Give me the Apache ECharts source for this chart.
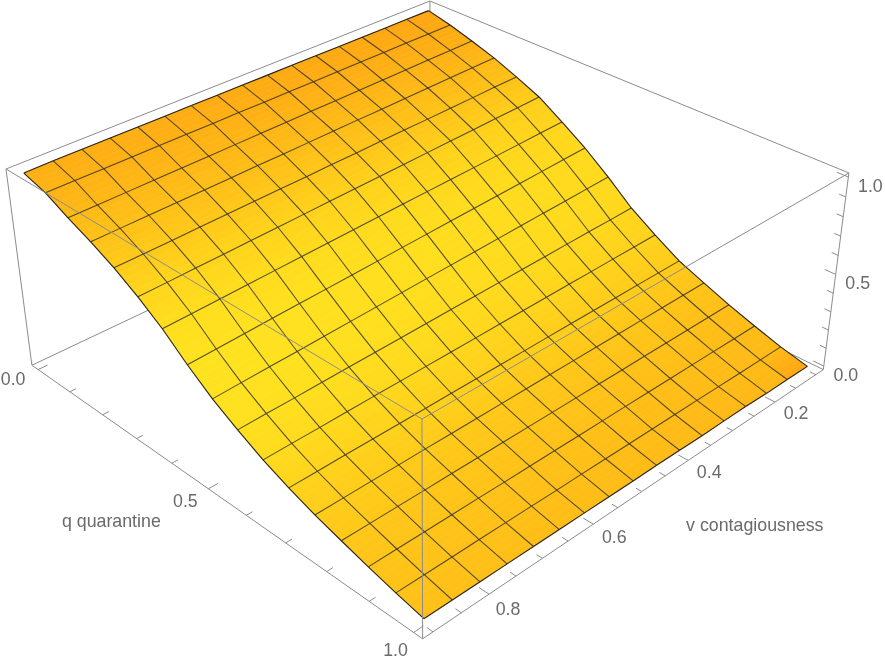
<!DOCTYPE html>
<html>
<head>
<meta charset="utf-8">
<style>
  html, body { margin: 0; padding: 0; background: #fff; }
  #chart { width: 885px; height: 663px; }
</style>
<script src="https://cdn.jsdelivr.net/npm/echarts@6/dist/echarts.min.js"></script>
</head>
<body>
<div id="chart"></div>
<script>
const qValues = [0, 0.0625, 0.125, 0.1875, 0.25, 0.3125, 0.375, 0.4375, 0.5, 0.5625, 0.625, 0.6875, 0.75, 0.8125, 0.875, 0.9375, 1];
const vValues = [0.1, 0.15, 0.2, 0.25, 0.3, 0.35, 0.4, 0.45, 0.5, 0.55, 0.6, 0.65, 0.7, 0.75, 0.8, 0.85, 0.9];

// one row per q, one column per v
const zValues = [
  [1.000, 1.000, 1.000, 1.000, 1.000, 1.000, 1.000, 1.000, 1.000, 1.000, 1.000, 1.000, 1.000, 1.000, 1.000, 1.000, 0.998],
  [0.970, 0.969, 0.969, 0.968, 0.968, 0.967, 0.966, 0.966, 0.965, 0.965, 0.964, 0.964, 0.963, 0.963, 0.962, 0.962, 0.961],
  [0.932, 0.930, 0.928, 0.926, 0.924, 0.922, 0.920, 0.918, 0.916, 0.914, 0.912, 0.910, 0.908, 0.906, 0.904, 0.902, 0.900],
  [0.890, 0.887, 0.885, 0.882, 0.879, 0.876, 0.874, 0.871, 0.868, 0.865, 0.863, 0.860, 0.857, 0.854, 0.852, 0.849, 0.846],
  [0.838, 0.835, 0.831, 0.828, 0.824, 0.821, 0.818, 0.814, 0.811, 0.807, 0.804, 0.801, 0.797, 0.794, 0.790, 0.787, 0.784],
  [0.782, 0.777, 0.773, 0.768, 0.764, 0.759, 0.754, 0.750, 0.745, 0.741, 0.736, 0.731, 0.727, 0.722, 0.718, 0.713, 0.709],
  [0.700, 0.695, 0.690, 0.685, 0.680, 0.675, 0.671, 0.666, 0.661, 0.656, 0.651, 0.646, 0.641, 0.636, 0.631, 0.626, 0.621],
  [0.614, 0.608, 0.602, 0.595, 0.589, 0.583, 0.577, 0.571, 0.565, 0.558, 0.552, 0.546, 0.540, 0.534, 0.527, 0.521, 0.515],
  [0.513, 0.507, 0.501, 0.496, 0.490, 0.484, 0.478, 0.472, 0.467, 0.461, 0.455, 0.449, 0.443, 0.437, 0.432, 0.426, 0.420],
  [0.402, 0.398, 0.395, 0.391, 0.387, 0.384, 0.380, 0.376, 0.373, 0.369, 0.365, 0.361, 0.358, 0.354, 0.350, 0.347, 0.343],
  [0.315, 0.312, 0.310, 0.307, 0.305, 0.302, 0.299, 0.297, 0.294, 0.291, 0.289, 0.286, 0.284, 0.281, 0.278, 0.276, 0.273],
  [0.236, 0.235, 0.234, 0.232, 0.231, 0.230, 0.229, 0.227, 0.226, 0.225, 0.224, 0.222, 0.221, 0.220, 0.219, 0.217, 0.216],
  [0.180, 0.179, 0.178, 0.177, 0.176, 0.176, 0.175, 0.174, 0.173, 0.172, 0.171, 0.170, 0.170, 0.169, 0.168, 0.167, 0.166],
  [0.127, 0.127, 0.127, 0.127, 0.127, 0.126, 0.126, 0.126, 0.126, 0.126, 0.126, 0.126, 0.126, 0.125, 0.125, 0.125, 0.125],
  [0.080, 0.080, 0.081, 0.081, 0.081, 0.082, 0.082, 0.082, 0.082, 0.083, 0.083, 0.083, 0.084, 0.084, 0.084, 0.085, 0.085],
  [0.036, 0.037, 0.037, 0.038, 0.039, 0.040, 0.040, 0.041, 0.042, 0.043, 0.043, 0.044, 0.045, 0.046, 0.046, 0.047, 0.048],
  [0.002, 0.004, 0.003, 0.008, 0.007, 0.006, 0.008, 0.009, 0.009, 0.010, 0.011, 0.011, 0.012, 0.013, 0.013, 0.014, 0.015]
];

// how yellow each q row looks, 0 is the orange end and 1 the yellow end
const shadeByQ = [0.1, 0.17, 0.28, 0.42, 0.58, 0.78, 0.92, 1, 1, 0.96, 0.87, 0.74, 0.62, 0.54, 0.48, 0.44, 0.4];

const qTicks = [0, 0.1, 0.2, 0.3, 0.4, 0.5, 0.6, 0.7, 0.8, 0.9, 1];
const vTicks = [0.1, 0.15, 0.2, 0.25, 0.3, 0.35, 0.4, 0.45, 0.5, 0.55, 0.6, 0.65, 0.7, 0.75, 0.8, 0.85, 0.9];
const zTicks = [0, 0.1, 0.2, 0.3, 0.4, 0.5, 0.6, 0.7, 0.8, 0.9, 1];
const qMajor = [0, 0.5, 1];
const vMajor = [0.2, 0.4, 0.6, 0.8];
const zMajor = [0, 0.5, 1];

const qRange = [-0.02, 1.02];
const vRange = [0.081, 0.918];
const zRange = [-0.02, 1.02];

// perspective camera, from box fractions (a along q, b along v, c along z) to the page
const camera = {
  x: [430, 269.4, -402.8, -22.4],
  y: [177, 137.0, 134.3, -176.05],
  w: [1, -0.1505, -0.1477, -0.052]
};

function project(api, q, v, z, dx, dy) {
  const a = (q - qRange[0]) / (qRange[1] - qRange[0]);
  const b = (v - vRange[0]) / (vRange[1] - vRange[0]);
  const c = (z - zRange[0]) / (zRange[1] - zRange[0]);
  const row = (m) => m[0] + m[1] * a + m[2] * b + m[3] * c;
  const w = row(camera.w);
  return api.coord([row(camera.x) / w + (dx || 0), row(camera.y) / w + (dy || 0)]);
}

const orange = [255, 165, 18];
const yellow = [255, 222, 30];

function nodeShade(i, j) {
  if (i === 16 && j === 0) return -0.25;
  return shadeByQ[i] + 0.16 * (j / 16 - 0.5);
}

function shadeColor(t) {
  const c = orange.map((o, k) => Math.round(o + (yellow[k] - o) * t));
  return 'rgb(' + c.join(',') + ')';
}

const boxColor = '#8c8c8c';
const [q0, q1] = qRange;
const [v0, v1] = vRange;
const [z0, z1] = zRange;

const backEdges = [
  [q0, v0, z0, q0, v1, z0], [q0, v0, z0, q1, v0, z0], [q0, v0, z0, q0, v0, z1],
  [q0, v0, z1, q0, v1, z1], [q0, v0, z1, q1, v0, z1],
  [q0, v1, z0, q0, v1, z1], [q1, v0, z0, q1, v0, z1],
  [q0, v1, z0, q1, v1, z0], [q1, v1, z0, q1, v0, z0]
];
const frontEdges = [
  [q0, v1, z1, q1, v1, z1], [q1, v0, z1, q1, v1, z1], [q1, v1, z0, q1, v1, z1]
];

const tickSegs = [];
qTicks.forEach((q) => {
  const d = qMajor.includes(q) ? 0.017 : 0.011;
  tickSegs.push([q, v1, z0, q, v1 - d, z0]);
});
vTicks.forEach((v) => {
  const d = vMajor.includes(v) ? 0.022 : 0.013;
  tickSegs.push([q1, v, z0, q1 - d, v, z0]);
});
zTicks.forEach((z) => {
  const d = zMajor.includes(z) ? 0.024 : 0.014;
  tickSegs.push([q1, v0, z, q1 - d, v0, z]);
});

const cells = [];
for (let i = 0; i < qValues.length - 1; i++) {
  for (let j = qValues.length - 2; j >= 0; j--) cells.push([i, j]);
}

function segmentSeries(segs, z, stroke, width) {
  return {
    type: 'custom',
    coordinateSystem: 'cartesian2d',
    silent: true,
    z: z,
    data: segs.map((s, i) => [i, i]),
    renderItem: (params, api) => {
      const s = segs[params.dataIndex];
      const p = project(api, s[0], s[1], s[2]);
      const r = project(api, s[3], s[4], s[5]);
      return {
        type: 'line',
        shape: { x1: p[0], y1: p[1], x2: r[0], y2: r[1] },
        style: { stroke: stroke, lineWidth: width || 1 }
      };
    }
  };
}

// each cell is painted in a few flat strips across q so the colour runs smoothly
const shadeStrips = 5;

const surfaceSeries = {
  type: 'custom',
  coordinateSystem: 'cartesian2d',
  silent: true,
  z: 3,
  data: cells,
  renderItem: (params, api) => {
    const i = api.value(0);
    const j = api.value(1);
    const corner = (m, n) => project(api, qValues[m], vValues[n], zValues[m][n]);
    const p = [corner(i, j), corner(i + 1, j), corner(i + 1, j + 1), corner(i, j + 1)];
    const along = (from, to, f) => [from[0] + (to[0] - from[0]) * f, from[1] + (to[1] - from[1]) * f];
    const children = [];
    for (let s = 0; s < shadeStrips; s++) {
      const f0 = s / shadeStrips;
      const f1 = (s + 1) / shadeStrips;
      const fm = (f0 + f1) / 2;
      const t = (nodeShade(i, j) + nodeShade(i, j + 1)) / 2 * (1 - fm) +
        (nodeShade(i + 1, j) + nodeShade(i + 1, j + 1)) / 2 * fm;
      const color = shadeColor(t);
      children.push({
        type: 'polygon',
        shape: { points: [along(p[0], p[1], f0), along(p[0], p[1], f1), along(p[3], p[2], f1), along(p[3], p[2], f0)] },
        style: { fill: color, stroke: color, lineWidth: 0.6 }
      });
    }
    return { type: 'group', children: children };
  }
};

// mesh lines and the outline, one short segment between neighbour nodes
const meshSegs = [];
const edgeSegs = [];
qValues.forEach((q, i) => {
  vValues.forEach((v, j) => {
    const z = zValues[i][j];
    if (j < 16) {
      (i === 0 || i === 16 ? edgeSegs : meshSegs).push([q, v, z, q, vValues[j + 1], zValues[i][j + 1]]);
    }
    if (i < 16) {
      (j === 0 || j === 16 ? edgeSegs : meshSegs).push([q, v, z, qValues[i + 1], v, zValues[i + 1][j]]);
    }
  });
});

const labels = [];
const textGray = '#6a6a6a';
qMajor.forEach((q, i) => {
  labels.push({ text: q.toFixed(1), at: [q, v1, z0], off: [[-25, 11], [-23, 13], [-18, 19]][i] });
});
vMajor.forEach((v, i) => {
  labels.push({ text: v.toFixed(1), at: [q1, v, z0], off: [[21, 12], [21, 13], [21, 14], [19, 16]][i] });
});
zMajor.forEach((z) => {
  labels.push({ text: z.toFixed(1), at: [q1, v0, z], off: [22, 10] });
});
labels.push({ text: 'q quarantine', at: [0.5, v1, z0], off: [-97, 33] });
labels.push({ text: 'v contagiousness', at: [q1, 0.5, z0], off: [113, 35] });

const labelSeries = {
  type: 'custom',
  coordinateSystem: 'cartesian2d',
  silent: true,
  z: 6,
  data: labels.map((l, i) => [i, i]),
  renderItem: (params, api) => {
    const l = labels[params.dataIndex];
    const p = project(api, l.at[0], l.at[1], l.at[2], l.off[0], l.off[1]);
    return {
      type: 'text',
      x: p[0],
      y: p[1],
      style: {
        text: l.text,
        fill: textGray,
        font: '17.8px "Liberation Sans", Arial, sans-serif',
        align: 'center',
        verticalAlign: 'middle'
      }
    };
  }
};

const myChart = echarts.init(document.getElementById('chart'), null, { renderer: 'canvas' });
myChart.setOption({
  animation: false,
  backgroundColor: '#ffffff',
  tooltip: { show: false },
  grid: { left: 0, right: 0, top: 0, bottom: 0 },
  xAxis: { type: 'value', min: 0, max: 885, show: false },
  yAxis: { type: 'value', min: 0, max: 663, inverse: true, show: false },
  series: [
    segmentSeries(backEdges, 2, boxColor),
    surfaceSeries,
    segmentSeries(meshSegs, 4, 'rgba(40,40,40,0.8)', 1.05),
    segmentSeries(edgeSegs, 4, 'rgba(25,25,25,0.95)', 1.1),
    segmentSeries(frontEdges, 5, boxColor),
    segmentSeries(tickSegs, 5, boxColor),
    labelSeries
  ]
});
</script>
</body>
</html>
